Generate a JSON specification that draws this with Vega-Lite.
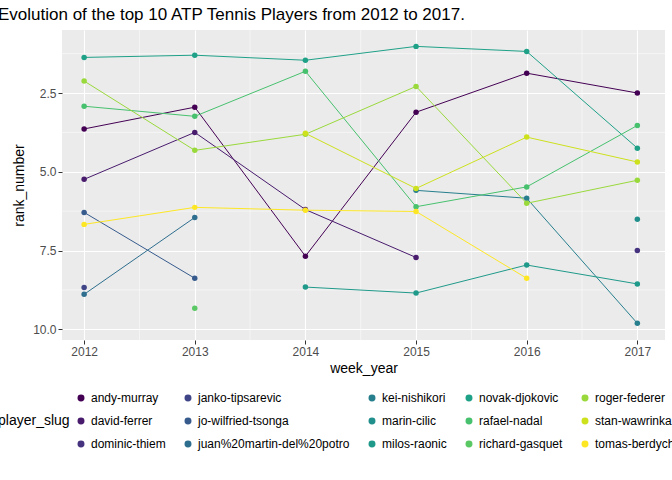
{
  "$schema": "https://vega.github.io/schema/vega-lite/v6.json",
  "width": 603,
  "height": 310,
  "autosize": "none",
  "padding": {"left": 62, "top": 30, "right": 7, "bottom": 140},
  "title": {"text": "Evolution of the top 10 ATP Tennis Players from 2012 to 2017.", "anchor": "start", "fontSize": 17, "font": "Liberation Sans", "fontWeight": "normal", "color": "black", "offset": 6},
  "data": {"values": [
    {"player_slug": "andy-murray", "week_year": 2012, "rank_number": 3.64},
    {"player_slug": "andy-murray", "week_year": 2013, "rank_number": 2.95},
    {"player_slug": "andy-murray", "week_year": 2014, "rank_number": 7.68},
    {"player_slug": "andy-murray", "week_year": 2015, "rank_number": 3.11},
    {"player_slug": "andy-murray", "week_year": 2016, "rank_number": 1.87},
    {"player_slug": "andy-murray", "week_year": 2017, "rank_number": 2.5},
    {"player_slug": "david-ferrer", "week_year": 2012, "rank_number": 5.24},
    {"player_slug": "david-ferrer", "week_year": 2013, "rank_number": 3.75},
    {"player_slug": "david-ferrer", "week_year": 2014, "rank_number": 6.2},
    {"player_slug": "david-ferrer", "week_year": 2015, "rank_number": 7.72},
    {"player_slug": "dominic-thiem", "week_year": 2017, "rank_number": 7.5},
    {"player_slug": "janko-tipsarevic", "week_year": 2012, "rank_number": 8.67},
    {"player_slug": "jo-wilfried-tsonga", "week_year": 2012, "rank_number": 6.29},
    {"player_slug": "jo-wilfried-tsonga", "week_year": 2013, "rank_number": 8.38},
    {"player_slug": "juan%20martin-del%20potro", "week_year": 2012, "rank_number": 8.89},
    {"player_slug": "juan%20martin-del%20potro", "week_year": 2013, "rank_number": 6.45},
    {"player_slug": "kei-nishikori", "week_year": 2015, "rank_number": 5.59},
    {"player_slug": "kei-nishikori", "week_year": 2016, "rank_number": 5.84},
    {"player_slug": "kei-nishikori", "week_year": 2017, "rank_number": 9.81},
    {"player_slug": "marin-cilic", "week_year": 2017, "rank_number": 6.51},
    {"player_slug": "milos-raonic", "week_year": 2014, "rank_number": 8.66},
    {"player_slug": "milos-raonic", "week_year": 2015, "rank_number": 8.85},
    {"player_slug": "milos-raonic", "week_year": 2016, "rank_number": 7.96},
    {"player_slug": "milos-raonic", "week_year": 2017, "rank_number": 8.56},
    {"player_slug": "novak-djokovic", "week_year": 2012, "rank_number": 1.37},
    {"player_slug": "novak-djokovic", "week_year": 2013, "rank_number": 1.3},
    {"player_slug": "novak-djokovic", "week_year": 2014, "rank_number": 1.46},
    {"player_slug": "novak-djokovic", "week_year": 2015, "rank_number": 1.02},
    {"player_slug": "novak-djokovic", "week_year": 2016, "rank_number": 1.18},
    {"player_slug": "novak-djokovic", "week_year": 2017, "rank_number": 4.25},
    {"player_slug": "rafael-nadal", "week_year": 2012, "rank_number": 2.92},
    {"player_slug": "rafael-nadal", "week_year": 2013, "rank_number": 3.24},
    {"player_slug": "rafael-nadal", "week_year": 2014, "rank_number": 1.81},
    {"player_slug": "rafael-nadal", "week_year": 2015, "rank_number": 6.11},
    {"player_slug": "rafael-nadal", "week_year": 2016, "rank_number": 5.48},
    {"player_slug": "rafael-nadal", "week_year": 2017, "rank_number": 3.53},
    {"player_slug": "richard-gasquet", "week_year": 2013, "rank_number": 9.33},
    {"player_slug": "roger-federer", "week_year": 2012, "rank_number": 2.12},
    {"player_slug": "roger-federer", "week_year": 2013, "rank_number": 4.32},
    {"player_slug": "roger-federer", "week_year": 2014, "rank_number": 3.81},
    {"player_slug": "roger-federer", "week_year": 2015, "rank_number": 2.29},
    {"player_slug": "roger-federer", "week_year": 2016, "rank_number": 6.0},
    {"player_slug": "roger-federer", "week_year": 2017, "rank_number": 5.27},
    {"player_slug": "stan-wawrinka", "week_year": 2014, "rank_number": 3.78},
    {"player_slug": "stan-wawrinka", "week_year": 2015, "rank_number": 5.53},
    {"player_slug": "stan-wawrinka", "week_year": 2016, "rank_number": 3.9},
    {"player_slug": "stan-wawrinka", "week_year": 2017, "rank_number": 4.69},
    {"player_slug": "tomas-berdych", "week_year": 2012, "rank_number": 6.67},
    {"player_slug": "tomas-berdych", "week_year": 2013, "rank_number": 6.13},
    {"player_slug": "tomas-berdych", "week_year": 2014, "rank_number": 6.22},
    {"player_slug": "tomas-berdych", "week_year": 2015, "rank_number": 6.26},
    {"player_slug": "tomas-berdych", "week_year": 2016, "rank_number": 8.38}
  ]},
  "encoding": {
    "x": {"field": "week_year", "type": "quantitative",
      "scale": {"domain": [2011.8, 2017.25], "nice": false, "zero": false},
      "axis": {"values": [2012, 2013, 2014, 2015, 2016, 2017], "format": "d", "title": "week_year"}},
    "y": {"field": "rank_number", "type": "quantitative",
      "scale": {"domain": [0.5, 10.34], "reverse": true, "nice": false, "zero": false},
      "axis": {"values": [2.5, 5, 7.5, 10], "format": ".1f", "title": "rank_number"}},
    "color": {"field": "player_slug", "type": "nominal",
      "scale": {
        "domain": ["andy-murray", "david-ferrer", "dominic-thiem", "janko-tipsarevic", "jo-wilfried-tsonga",
                   "juan%20martin-del%20potro", "kei-nishikori", "marin-cilic", "milos-raonic", "novak-djokovic",
                   "rafael-nadal", "richard-gasquet", "roger-federer", "stan-wawrinka", "tomas-berdych"],
        "range": ["#440154", "#481B6D", "#46337F", "#404588", "#375B8D",
                  "#2E6E8E", "#277F8E", "#21908C", "#1F9A8A", "#1FA188",
                  "#47C16E", "#5AC864", "#9AD93C", "#CDE11D", "#FDE725"]},
      "legend": {"orient": "none", "legendX": -64, "legendY": 362, "columns": 5, "title": "player_slug",
        "titleOrient": "left", "titleFontSize": 14, "titleFontWeight": "normal", "titleColor": "black", "titleAnchor": "middle",
        "labelFontSize": 12, "labelColor": "black", "symbolType": "circle", "symbolSize": 30,
        "rowPadding": 11, "columnPadding": 16, "symbolOffset": 0, "labelLimit": 300}}
  },
  "layer": [
    {
      "mark": {"type": "rule", "color": "white", "strokeWidth": 0.5},
      "data": {"values": [
        {"gx": 2012.5}, {"gx": 2013.5}, {"gx": 2014.5}, {"gx": 2015.5}, {"gx": 2016.5}
      ]},
      "encoding": {"x": {"field": "gx", "type": "quantitative"}, "y": null, "color": null}
    },
    {
      "mark": {"type": "rule", "color": "white", "strokeWidth": 0.5},
      "data": {"values": [
        {"gy": 1.25}, {"gy": 3.75}, {"gy": 6.25}, {"gy": 8.75}
      ]},
      "encoding": {"y": {"field": "gy", "type": "quantitative"}, "x": null, "color": null}
    },
    {"mark": {"type": "line", "strokeWidth": 1}, "encoding": {"detail": {"field": "player_slug"}}},
    {"mark": {"type": "circle", "size": 30, "opacity": 1}}
  ],
  "config": {
    "font": "Liberation Sans",
    "view": {"fill": "#EBEBEB", "stroke": null},
    "axis": {"gridColor": "white", "gridWidth": 1.1, "domain": false, "tickColor": "#333333",
      "labelColor": "#4D4D4D", "labelFontSize": 12, "titleFontSize": 14, "titleFontWeight": "normal", "titleColor": "black", "tickSize": 4},
    "axisX": {"titlePadding": 4},
    "axisY": {"titlePadding": 6}
  }
}
